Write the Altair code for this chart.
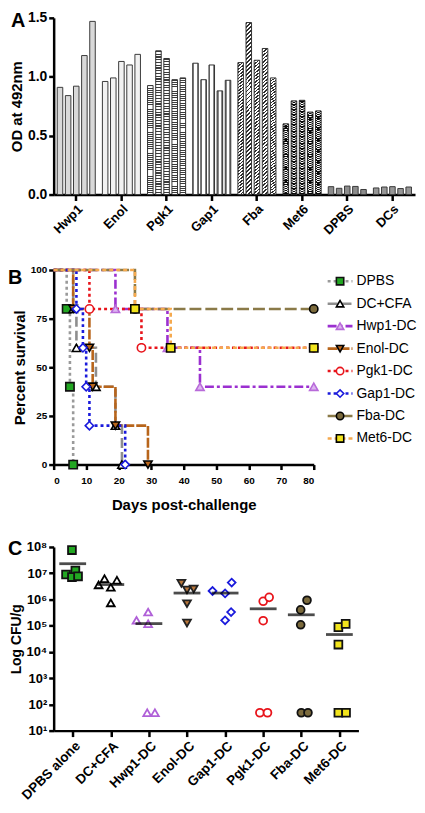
import json
import altair as alt
import pandas as pd

FONT = "Liberation Sans"

# ---------------- Panel A data ----------------
a_groups = ["Hwp1", "Enol", "Pgk1", "Gap1", "Fba", "Met6", "DPBS", "DCs"]
a_hwp1 = [0.91, 0.84, 0.92, 1.18, 1.47]
a_enol = [0.96, 0.99, 1.13, 1.10, 1.19]
a_pgk1 = [0.925, 1.22, 1.155, 0.975, 0.99]
a_gap1 = [1.115, 0.975, 1.10, 0.88, 0.97]
a_fba = [1.12, 1.46, 1.14, 1.24, 0.99]
a_met6 = [0.60, 0.795, 0.80, 0.70, 0.71]
a_dpbs = [0.067, 0.053, 0.072, 0.069, 0.043]
a_dcs = [0.056, 0.064, 0.067, 0.051, 0.064]
a_values = [a_hwp1, a_enol, a_pgk1, a_gap1, a_fba, a_met6, a_dpbs, a_dcs]
a_fills = ["#d9d9d9", "#f2f2f2", "#bdbdbd", "#f0f0f0", "#a6a6a6", "#5a5a5a", "#8c8c8c", "#979797"]

# ---------------- Panel B data ----------------
b_series = ["DPBS", "DC+CFA", "Hwp1-DC", "Enol-DC", "Pgk1-DC", "Gap1-DC", "Fba-DC", "Met6-DC"]
b_days = [
    [0, 4, 5, 6],
    [0, 6, 7, 13, 19, 21],
    [0, 19, 35, 45, 80],
    [0, 6, 11, 12, 19, 29],
    [0, 11, 27, 80],
    [0, 7, 9, 10, 11, 22],
    [0, 25, 80],
    [0, 25, 36, 80],
]
b_surv = [
    [100, 80, 40, 0],
    [100, 80, 60, 40, 20, 0],
    [100, 80, 60, 40, 40],
    [100, 80, 60, 40, 20, 0],
    [100, 80, 60, 60],
    [100, 80, 60, 40, 20, 0],
    [100, 80, 80],
    [100, 80, 60, 60],
]
b_line_colors = ["#9a9a9a", "#8e8e8e", "#9b30d0", "#b8651b", "#e8141b", "#1a1adc", "#8a7a48", "#f5a94e"]
b_dashes = [[3, 3], [10, 4], [9, 3, 3, 3], [10, 2], [3, 3], [3, 3], [12, 4], [4, 3]]
b_shapes = ["square", "triangle-up", "triangle-up", "triangle-down", "circle", "diamond", "circle", "square"]
b_fills = ["#22a722", "#ffffff", "#dcb4f0", "#b8651b", "#ffffff", "#ffffff", "#7b6a3c", "#f2e41c"]
b_strokes = ["#111111", "#000000", "#b86ad9", "#000000", "#e8141b", "#1a1adc", "#000000", "#000000"]

# ---------------- Panel C data ----------------
c_groups = ["DPBS alone", "DC+CFA", "Hwp1-DC", "Enol-DC", "Gap1-DC", "Pgk1-DC", "Fba-DC", "Met6-DC"]
c_cfu = [
    [7.6e7, 8.9e6, 1.26e7, 7.1e6, 7.6e6],
    [3.6e6, 6.2e6, 2.9e6, 5.4e6, 7.4e5],
    [1.6e5, 3.3e5, 1.18e5, 48, 48],
    [4.1e6, 2.3e6, 2.5e6, 6.9e5, 1.26e5],
    [2.1e6, 1.7e6, 4.4e6, 3.3e5, 1.6e5],
    [8.5e5, 1.2e6, 1.55e5, 48, 48],
    [9.3e5, 4.0e5, 1.08e5, 48, 48],
    [8.8e4, 1.17e5, 1.9e4, 48, 48],
]
c_jitter = [
    [-0.02, -0.175, 0.07, -0.02, 0.14],
    [-0.32, -0.165, 0.0, 0.16, 0.0],
    [-0.325, -0.02, -0.02, -0.045, 0.157],
    [-0.147, 0.0, 0.175, 0.0, 0.0],
    [-0.33, 0.0, 0.173, 0.157, 0.0],
    [0.0, 0.157, 0.0, -0.087, 0.113],
    [0.15, -0.016, -0.016, 0.0, 0.175],
    [-0.026, 0.165, -0.026, -0.026, 0.175],
]
c_means = [2.3e7, 3.7e6, 1.2e5, 1.75e6, 1.75e6, 4.4e5, 2.6e5, 4.6e4]
c_shapes = ["square", "triangle-up", "triangle-up", "triangle-down", "diamond", "circle", "circle", "square"]
c_fills = ["#22a722", "#ffffff", "#ffffff", "#b8763a", "#ffffff", "#ffffff", "#7b6a3c", "#f2e41c"]
c_strokes = ["#111111", "#000000", "#b060d8", "#222222", "#1a1adc", "#e8141b", "#111111", "#111111"]

# ---------------- frames ----------------
dfA = pd.DataFrame(
    [{"group": g, "rep": i, "od": v, "fcol": f}
     for g, vals, f in zip(a_groups, a_values, a_fills) for i, v in enumerate(vals)]
)
b_style = {s: dict(lcol=lc, fcol=fc, scol=sc, shp=sh)
           for s, lc, fc, sc, sh in zip(b_series, b_line_colors, b_fills, b_strokes, b_shapes)}
dfB = pd.DataFrame(
    [{"series": s, "day": d, "surv": p, **b_style[s]}
     for s, ds, ps in zip(b_series, b_days, b_surv) for d, p in zip(ds, ps)]
)
dfBpts = dfB[dfB["day"] > 0]
dfLeg = pd.DataFrame([{"series": s, **b_style[s]} for s in b_series])
dfC = pd.DataFrame(
    [{"group": g, "pos": gi + j, "cfu": v, "fcol": fc, "scol": sc, "shp": sh}
     for gi, (g, vals, js, fc, sc, sh) in enumerate(zip(c_groups, c_cfu, c_jitter, c_fills, c_strokes, c_shapes))
     for v, j in zip(vals, js)]
)
dfCm = pd.DataFrame({"group": c_groups, "pos": list(range(len(c_groups))), "mean": c_means})


def letter(t, x, y):
    return alt.Chart(pd.DataFrame({"t": [t]})).mark_text(
        font=FONT, fontWeight="bold", fontSize=20, align="left", baseline="middle", color="black"
    ).encode(text="t:N", x=alt.value(x), y=alt.value(y))


# ---------------- texture gradients (bar fills) ----------------
def stripes(n, dark, light, frac, x2=0.0, y2=1.0, start_dark=True):
    stops = []
    for k in range(n):
        a, m, b = k / n, (k + frac) / n, (k + 1) / n
        c1, c2 = (dark, light) if start_dark else (light, dark)
        stops += [{"offset": a, "color": c1}, {"offset": m, "color": c1},
                  {"offset": m, "color": c2}, {"offset": b, "color": c2}]
    return {"gradient": "linear", "x1": 0, "y1": 0, "x2": x2, "y2": y2, "stops": stops}


grad_pgk1 = stripes(52, "#3c3c3c", "#ffffff", 0.42)
grad_fba = stripes(44, "#2e2e2e", "#ffffff", 0.45, x2=0.034, y2=1.03)
grad_gap1 = {"gradient": "linear", "x1": 0, "y1": 0, "x2": 1, "y2": 0,
             "stops": [{"offset": 0, "color": "#8a8a8a"}, {"offset": 0.26, "color": "#8a8a8a"},
                       {"offset": 0.26, "color": "#ffffff"}, {"offset": 0.74, "color": "#ffffff"},
                       {"offset": 0.74, "color": "#8a8a8a"}, {"offset": 1, "color": "#8a8a8a"}]}
grad_met6_base = stripes(38, "#0a0a0a", "#ffffff", 0.6, start_dark=True)
grad_met6_half = stripes(38, "#ffffff", "#0a0a0a", 0.4, start_dark=True)

# ---------------- Panel A ----------------
xA = alt.X("group:N", sort=a_groups,
           scale=alt.Scale(domain=a_groups, paddingInner=0.1, paddingOuter=0.05),
           axis=alt.Axis(title=None, labelAngle=-45, labelFontSize=13, tickSize=6))
xoA = alt.XOffset("rep:O", scale=alt.Scale(domain=[0, 1, 2, 3, 4], paddingInner=0.32, paddingOuter=0.16))
yA = alt.Y("od:Q", scale=alt.Scale(domain=[0, 1.5]),
           axis=alt.Axis(values=[0, 0.5, 1.0, 1.5], format=".1f", title="OD at 492nm",
                         titleFontSize=15, labelFontSize=14))


def bars(groups, **mark):
    return alt.Chart(dfA).transform_filter(
        alt.FieldOneOfPredicate(field="group", oneOf=groups)
    ).mark_bar(**mark).encode(x=xA, xOffset=xoA, y=yA)


flatA = bars(["Hwp1", "Enol", "DPBS", "DCs"], stroke="#3a3a3a", strokeWidth=1).encode(
    fill=alt.Fill("fcol:N", scale=None))
pgkA = bars(["Pgk1"], fill=grad_pgk1, stroke="#333333", strokeWidth=1)
gapA = bars(["Gap1"], fill=grad_gap1, stroke="#333333", strokeWidth=1)
fbaA = bars(["Fba"], fill=grad_fba, stroke="#333333", strokeWidth=1)
metB = bars(["Met6"], fill=grad_met6_base)
metH = bars(["Met6"], fill=grad_met6_half, width=2.8, xOffset=1.4)
metO = bars(["Met6"], fillOpacity=0, stroke="#222222", strokeWidth=1)

chartA = alt.layer(flatA, pgkA, gapA, fbaA, metB, metH, metO, letter("A", -43, 3)).properties(
    width=364, height=178)

# ---------------- Panel B ----------------
xB = alt.X("day:Q", scale=alt.Scale(domain=[0, 80], nice=False),
           axis=alt.Axis(values=list(range(0, 81, 10)), title="Days post-challenge", titleFontSize=15,
                         labelPadding=6, titlePadding=12))
yB = alt.Y("surv:Q", scale=alt.Scale(domain=[0, 100]),
           axis=alt.Axis(values=[0, 25, 50, 75, 100], title="Percent survival", titleFontSize=15))
dashB = alt.StrokeDash("series:N", scale=alt.Scale(domain=b_series, range=b_dashes), legend=None)

linesB = alt.Chart(dfB).mark_line(interpolate="step-after", strokeWidth=2.6).encode(
    x=xB, y=yB, detail="series:N", color=alt.Color("lcol:N", scale=None), strokeDash=dashB,
    order="day:Q")
ptsB = alt.Chart(dfBpts).mark_point(filled=True, opacity=1, size=70, strokeWidth=1.6).encode(
    x=xB, y=yB, shape=alt.Shape("shp:N", scale=None), fill=alt.Fill("fcol:N", scale=None),
    stroke=alt.Stroke("scol:N", scale=None))
plotB = alt.layer(linesB, ptsB, letter("B", -46, 8)).properties(width=262, height=196)

yL = alt.Y("series:N", sort=b_series, axis=None, scale=alt.Scale(domain=b_series))
legR = alt.Chart(dfLeg).mark_rule(strokeWidth=2.6).encode(
    y=yL, x=alt.value(0), x2=alt.value(25), color=alt.Color("lcol:N", scale=None), strokeDash=dashB)
legP = alt.Chart(dfLeg).mark_point(filled=True, opacity=1, size=55, strokeWidth=1.6).encode(
    y=yL, x=alt.value(12.5), shape=alt.Shape("shp:N", scale=None), fill=alt.Fill("fcol:N", scale=None),
    stroke=alt.Stroke("scol:N", scale=None))
legT = alt.Chart(dfLeg).mark_text(align="left", baseline="middle", font=FONT, fontSize=14,
                                  color="black").encode(y=yL, x=alt.value(29), text="series:N")
legend = alt.layer(legR, legP, legT).properties(width=84, height=181)

chartB = alt.hconcat(plotB, legend, spacing=4)

# ---------------- Panel C ----------------
x_expr = json.dumps(c_groups) + "[datum.value]"
y_expr = "'10' + ['\u2070','\u00b9','\u00b2','\u00b3','\u2074','\u2075','\u2076','\u2077','\u2078'][round(log(datum.value)/LN10)]"
xC = alt.X("pos:Q", scale=alt.Scale(domain=[-0.5, 7.5], nice=False, zero=False),
           axis=alt.Axis(values=list(range(8)), labelExpr=x_expr, labelAngle=-45, title=None,
                         labelFontSize=13.5, tickSize=6, labelOverlap=False))
yC = alt.Y("cfu:Q", scale=alt.Scale(type="log", domain=[10, 1e8], nice=False),
           axis=alt.Axis(values=[10 ** k for k in range(1, 9)], labelExpr=y_expr, labelOverlap=False,
                         title="Log CFU/g", titleFontSize=14, labelFontSize=13))
ptsC = alt.Chart(dfC).mark_point(filled=True, opacity=1, size=62, strokeWidth=1.8).encode(
    x=xC, y=yC,
    shape=alt.Shape("shp:N", scale=None),
    fill=alt.Fill("fcol:N", scale=None),
    stroke=alt.Stroke("scol:N", scale=None),
)
meanC = alt.Chart(dfCm).mark_tick(orient="horizontal", size=27, thickness=2.8, color="black").encode(
    x=alt.X("pos:Q"), y=alt.Y("mean:Q"))
chartC = alt.layer(ptsC, meanC, letter("C", -46, 2)).properties(width=307, height=185)

chart = alt.concat(chartA, chartB, chartC, columns=1, spacing=27, align="none", bounds="full").configure(
    padding=0,
).configure_view(stroke=None).configure_axis(
    grid=False, domainColor="black", domainWidth=2.5, tickColor="black", tickWidth=2.5,
    tickSize=5, labelFont=FONT, labelFontWeight="bold", labelColor="black", labelPadding=2,
    titleFont=FONT, titleFontWeight="bold", titleColor="black", titlePadding=3,
)

chart.save("out.html", embed_options={"renderer": "svg", "actions": False})
